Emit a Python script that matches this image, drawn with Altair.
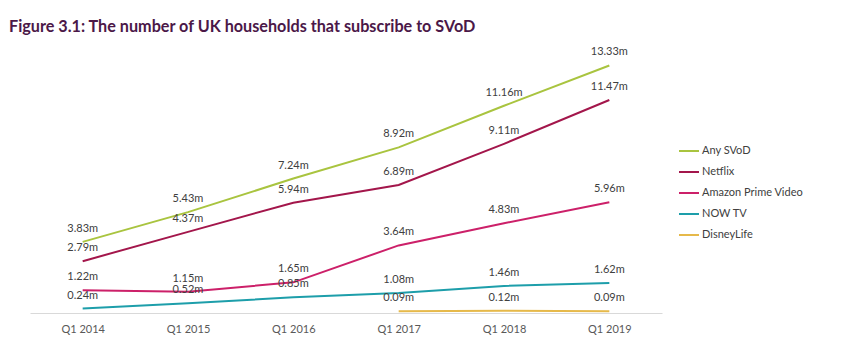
import altair as alt
import pandas as pd

quarters = ["Q1 2014", "Q1 2015", "Q1 2016", "Q1 2017", "Q1 2018", "Q1 2019"]
series_names = ["Any SVoD", "Netflix", "Amazon Prime Video", "NOW TV", "DisneyLife"]
any_svod = [3.83, 5.43, 7.24, 8.92, 11.16, 13.33]
netflix = [2.79, 4.37, 5.94, 6.89, 9.11, 11.47]
amazon = [1.22, 1.15, 1.65, 3.64, 4.83, 5.96]
now_tv = [0.24, 0.52, 0.85, 1.08, 1.46, 1.62]
disneylife = [None, None, None, 0.09, 0.12, 0.09]
colors = ["#a9c43f", "#a3164b", "#cc2069", "#1d9eaa", "#e6b94a"]

rows = []
for name, vals in zip(series_names, [any_svod, netflix, amazon, now_tv, disneylife]):
    for q, v in zip(quarters, vals):
        if v is not None:
            rows.append({"quarter": q, "series": name, "value": v, "label": f"{v:.2f}m"})
df = pd.DataFrame(rows)

FONT = "Lato"

x = alt.X("quarter:O", sort=quarters, scale=alt.Scale(type="point", padding=0.5),
          axis=alt.Axis(title=None, labelAngle=0, ticks=False, domain=True,
                        domainColor="#d9d9d9", domainWidth=1, labelColor="#595959",
                        labelFontSize=11, labelFont=FONT, labelPadding=10, grid=False))
y = alt.Y("value:Q", scale=alt.Scale(domain=[0, 14]), axis=None)
color = alt.Color("series:N", sort=series_names,
                  scale=alt.Scale(domain=series_names, range=colors),
                  legend=alt.Legend(title=None, orient="none", legendX=648, legendY=87,
                                    symbolType="stroke", symbolSize=400, symbolStrokeWidth=2,
                                    labelFontSize=11, labelFont=FONT, labelColor="#404040",
                                    labelOffset=2, rowPadding=5))

base = alt.Chart(df)
lines = base.mark_line(strokeWidth=2).encode(x=x, y=y, color=color, detail="series:N")
labels = base.mark_text(dy=-13, fontSize=11, font=FONT, color="#404040").encode(
    x=x, y=y, text="label:N")

chart = alt.layer(lines, labels).properties(
    width=632, height=260,
    background="white",
    autosize=alt.AutoSizeParams(type="none"),
    padding={"left": 30, "top": 53, "right": 203, "bottom": 40},
    title=alt.TitleParams("Figure 3.1: The number of UK households that subscribe to SVoD",
                          anchor="start", dx=-21, offset=11, fontSize=16.2, font=FONT,
                          fontWeight="bold", color="#4b1848"),
).configure_view(strokeWidth=0)

chart.save("out.html", embed_options={"renderer": "svg", "actions": False})
